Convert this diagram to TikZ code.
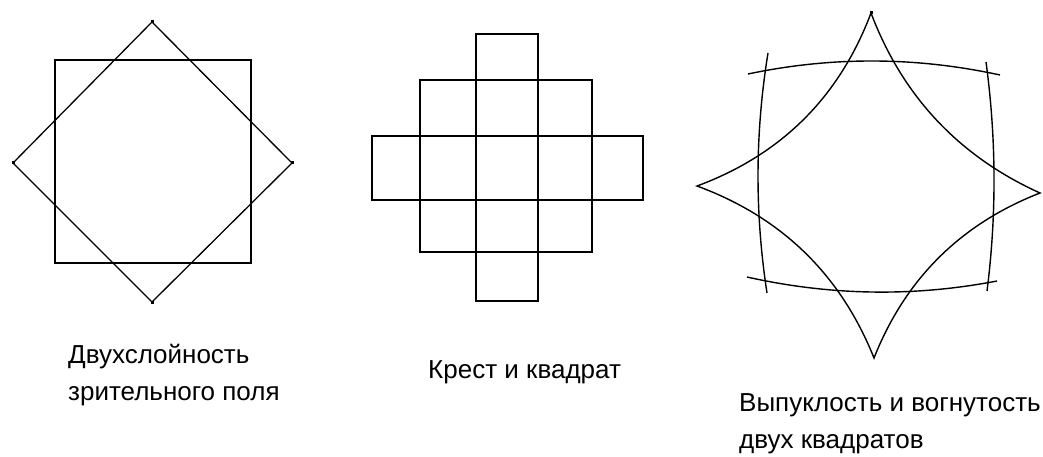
\documentclass[tikz,border=0pt]{standalone}
\usepackage{fontspec}
\setmainfont{Liberation Sans}
\begin{document}
\begin{tikzpicture}[x=1pt,y=-1pt,
  thick line/.style={line width=2pt, line join=miter},
  thin line/.style={line width=1.3pt, line join=miter},
  curve line/.style={line width=1.4pt},
  vertex dot/.style={fill=black, inner sep=0pt, minimum size=3pt, shape=rectangle},
  caption/.style={anchor=base west, inner sep=0pt, align=left,
    font=\fontsize{26}{37}\selectfont}]
\useasboundingbox (0,0) rectangle (1043,457);

% --- two overlapping squares ---
\coordinate (sqA) at (55,60);
\coordinate (sqB) at (251,263);
\draw[thick line] (sqA) rectangle (sqB);
\node[vertex dot] (dT) at (152,22) {};
\node[vertex dot] (dR) at (292,163) {};
\node[vertex dot] (dB) at (152,302) {};
\node[vertex dot] (dL) at (13,163) {};
\draw[thin line] (dT.center) -- (dR.center) -- (dB.center) -- (dL.center) -- cycle;
% base anchor of a two-line caption sits on its last line
\node[caption] (capA) at (68,400) {Двухслойность\\зрительного поля};

% --- cross made of squares ---
\draw[thick line] (476,34) rectangle (538,80);
\draw[thick line] (420,80) rectangle (592,136);
\draw[thick line] (372,136) rectangle (643,200);
\draw[thick line] (420,200) rectangle (592,252);
\draw[thick line] (476,252) rectangle (538,301);
\draw[thick line] (476,80) -- (476,252) (538,80) -- (538,252);
\draw[thick line] (420,136) -- (420,200) (592,136) -- (592,200);
\node[caption] (capB) at (428,378) {Крест и квадрат};

% --- convex square ---
\draw[curve line] (748,74) .. controls (832,56.3) and (916,56.7) .. (1000,75);
\draw[curve line] (768,53) .. controls (755,133) and (754.7,213) .. (767,293);
\draw[curve line] (986,62) .. controls (996.3,138.3) and (996.7,214.7) .. (987,291);
\draw[curve line] (747,277) .. controls (830.3,295.7) and (913.7,297) .. (997,281);

% --- concave star ---
\coordinate (sT) at (871,13);
\coordinate (sL) at (697,186);
\coordinate (sB) at (874,358);
\coordinate (sR) at (1040,193);
\node[vertex dot] (dS) at (sT) {};
\draw[curve line, line join=miter]
  (sT) .. controls (839.3,97.1) and (781.3,154.8) .. (sL)
       .. controls (781.5,217.1) and (840.5,274.4) .. (sB)
       .. controls (905.3,278.9) and (960.7,223.9) .. (sR)
       .. controls (958.9,156.3) and (902.5,96.3) .. (sT) -- cycle;
\node[caption] (capC) at (739,448) {Выпуклость и вогнутость\\двух квадратов};
\end{tikzpicture}
\end{document}
